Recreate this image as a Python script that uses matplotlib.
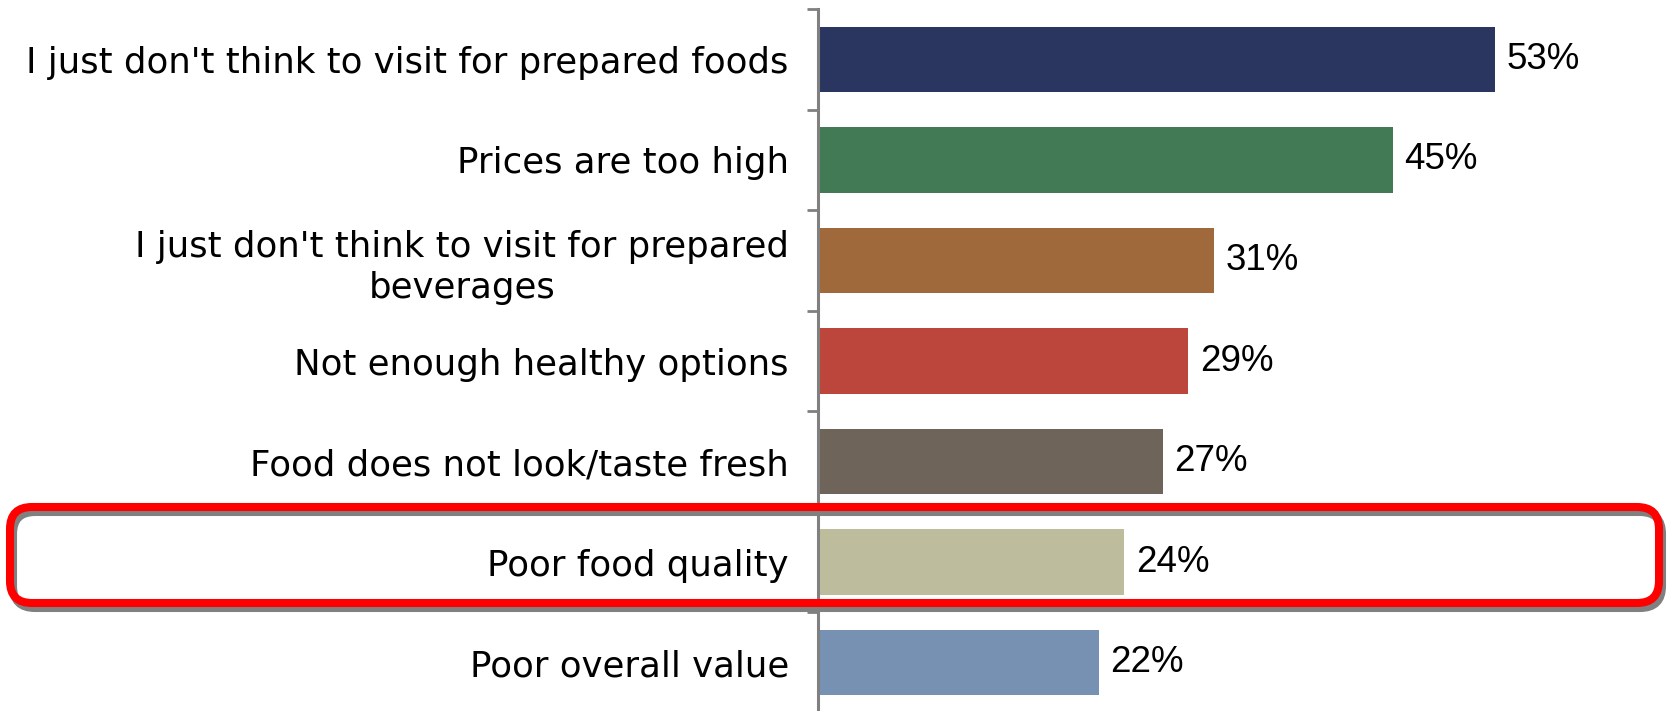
import matplotlib.pyplot as plt
from matplotlib.patches import FancyBboxPatch
from matplotlib.transforms import IdentityTransform

plt.rcParams['font.family'] = ['Liberation Sans', 'DejaVu Sans']

# reasons for not buying prepared food, top to bottom
reasons = [
    "I just don't think to visit for prepared foods",
    "Prices are too high",
    "I just don't think to visit for prepared\nbeverages",
    "Not enough healthy options",
    "Food does not look/taste fresh",
    "Poor food quality",
    "Poor overall value",
]
shares = [53, 45, 31, 29, 27, 24, 22]
colors = ['#2b3660', '#427a55', '#a0693b', '#bc453c', '#6e645a', '#bdbd9e', '#7691b2']

fig = plt.figure(figsize=(16.71, 7.11), dpi=100)
ax = fig.add_axes([818 / 1671, -2 / 711, 1 - 818 / 1671, 704 / 711])

n = len(reasons)
pos = list(range(n))
ax.barh(pos, shares, height=0.65, color=colors, zorder=2)
ax.set_ylim(n - 0.5, -0.5)
ax.set_xlim(0, 66.8)

for y, v in zip(pos, shares):
    ax.text(v + 0.9, y, f"{v}%", va='center', ha='left', fontsize=26.5)

# tick marks sit between the bars, labels at bar centres
ax.set_yticks([i - 0.5 for i in range(n + 1)])
ax.set_yticklabels([])
ax.tick_params(axis='y', which='major', length=8, width=2, color='#808080')
ax.set_yticks(pos, reasons, minor=True)
ax.tick_params(axis='y', which='minor', length=0, pad=21)
for lab in ax.get_yticklabels(minor=True):
    lab.set_multialignment('center')
    lab.set_family('DejaVu Sans')
    lab.set_fontsize(25.6)
    lab.set_linespacing(1.25)

ax.set_xticks([])
for s in ['top', 'right', 'bottom']:
    ax.spines[s].set_visible(False)
ax.spines['left'].set_color('#808080')
ax.spines['left'].set_linewidth(2.2)

# highlight box around "Poor food quality" with a gray drop shadow
box = dict(boxstyle="round,pad=0,rounding_size=22", fill=False,
           transform=IdentityTransform(), linewidth=5.8)
shadow = FancyBboxPatch((13, 103), 1649, 96, edgecolor='#808080', **box)
red = FancyBboxPatch((10, 108), 1649, 96, edgecolor='#ff0000', **box)
fig.add_artist(shadow)
fig.add_artist(red)

fig.savefig('out.png', dpi=100)
